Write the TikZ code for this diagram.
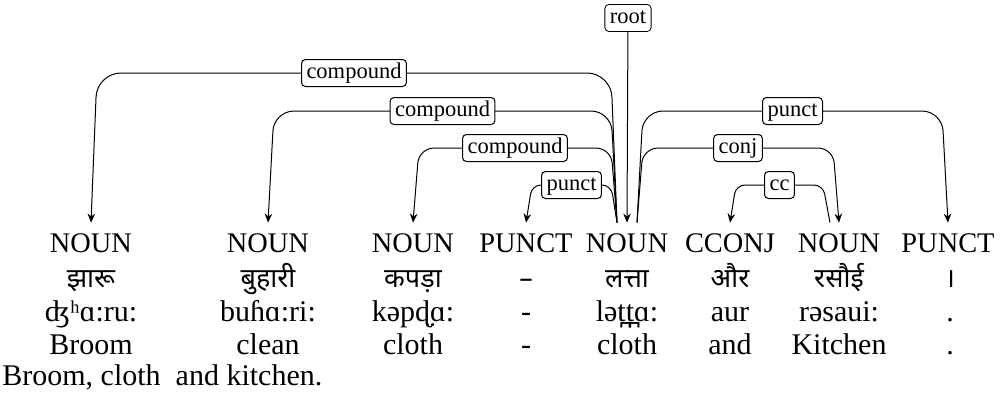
\documentclass[tikz,border=0pt]{standalone}
\usepackage{fontspec}
\setmainfont{Liberation Serif}
\newfontfamily\devfont[Script=Devanagari]{Noto Sans}
\usetikzlibrary{arrows.meta}

\begin{document}
\begin{tikzpicture}[x=0.5pt,y=-0.5pt,
        every node/.style={font=\fontsize{14.2}{17}\selectfont},
        tag/.style={anchor=base,inner sep=0pt,text height=14.5pt},
        word/.style={anchor=base,inner sep=0pt,font=\fontsize{15}{18}\selectfont},
        hindi/.style={word,font=\fontsize{13.5}{16}\devfont},
        rel/.style={draw,fill=white,rounded corners=2pt,inner xsep=2.5pt,inner ysep=1.5pt,
            text height=8pt,text depth=2.5pt,font=\fontsize{11.25}{13}\selectfont},
        arc/.style={line width=0.5pt,-{Stealth[length=4.5pt,width=3.8pt]}}]
    \useasboundingbox (0,0) rectangle (1002,397);
    % levels of the arcs
    \coordinate (lvA) at (0,73);
    \coordinate (lvB) at (0,111);
    \coordinate (lvC) at (0,148);
    \coordinate (lvD) at (0,185);
    % tags
    \node[tag] (pos1) at (91,252) {NOUN};
    \node[tag] (pos2) at (268,252) {NOUN};
    \node[tag] (pos3) at (413,252) {NOUN};
    \node[tag] (pos4) at (526,252) {PUNCT};
    \node[tag] (pos5) at (627,252) {NOUN};
    \node[tag] (pos6) at (730,252) {CCONJ};
    \node[tag] (pos7) at (839,252) {NOUN};
    \node[tag] (pos8) at (948,252) {PUNCT};
    % words
    \node[hindi] (hi1) at (91,287) {झारू};
    \node[hindi] (hi2) at (268,287) {बुहारी};
    \node[hindi] (hi3) at (413,287) {कपड़ा};
    \node[hindi] (hi4) at (526,287) {–};
    \node[hindi] (hi5) at (627,287) {लत्ता};
    \node[hindi] (hi6) at (730,287) {और};
    \node[hindi] (hi7) at (839,287) {रसौई};
    \node[hindi] (hi8) at (950,287) {।};
    % transcription
    \node[word] (ipa1) at (91,321) {ʤʰɑ:ru:};
    \node[word] (ipa2) at (268,321) {buɦɑ:ri:};
    \node[word] (ipa3) at (413,321) {kəpɖ̤ɑ:};
    \node[word] (ipa4) at (526,321) {-};
    \node[word] (ipa5) at (627,321) {lət̪t̪ɑ:};
    \node[word] (ipa6) at (730,321) {aur};
    \node[word] (ipa7) at (839,321) {rəsaui:};
    \node[word] (ipa8) at (950,321) {.};
    % gloss
    \node[word] (en1) at (91,354) {Broom};
    \node[word] (en2) at (268,354) {clean};
    \node[word] (en3) at (413,354) {cloth};
    \node[word] (en4) at (526,354) {-};
    \node[word] (en5) at (627,354) {cloth};
    \node[word] (en6) at (730,354) {and};
    \node[word] (en7) at (839,354) {Kitchen};
    \node[word] (en8) at (950,354) {.};
    \node[word,anchor=base west] (trans) at (2,385) {Broom, cloth\ \ and kitchen.};
    % dependencies
    \node[rel] (root) at (628,18) {root};
    \draw[arc] (root) -- (pos5.north);
    \draw[arc,rounded corners=12pt] ([xshift=-5pt]pos5.north) -- ([xshift=-8pt]pos5.north |- lvA)
        -- node[rel] {compound} ([xshift=3pt]pos1.north |- lvA) -- (pos1.north);
    \draw[arc,rounded corners=10pt] ([xshift=-5pt]pos5.north) -- ([xshift=-8pt]pos5.north |- lvB)
        -- node[rel] {compound} ([xshift=3pt]pos2.north |- lvB) -- (pos2.north);
    \draw[arc,rounded corners=7.5pt] ([xshift=-5pt]pos5.north) -- ([xshift=-8pt]pos5.north |- lvC)
        -- node[rel] {compound} ([xshift=3pt]pos3.north |- lvC) -- (pos3.north);
    \draw[arc,rounded corners=4.5pt] ([xshift=-5pt]pos5.north) -- ([xshift=-8pt]pos5.north |- lvD)
        -- node[rel] {punct} ([xshift=3pt]pos4.north |- lvD) -- (pos4.north);
    \draw[arc,rounded corners=10pt] ([xshift=5pt]pos5.north) -- ([xshift=8pt]pos5.north |- lvB)
        -- node[rel] {punct} ([xshift=-3pt]pos8.north |- lvB) -- (pos8.north);
    \draw[arc,rounded corners=7.5pt] ([xshift=5pt]pos5.north) -- ([xshift=8pt]pos5.north |- lvC)
        -- node[rel] {conj} ([xshift=-3pt]pos7.north |- lvC) -- (pos7.north);
    \draw[arc,rounded corners=4.5pt] ([xshift=-4.5pt]pos7.north) -- ([xshift=-8pt]pos7.north |- lvD)
        -- node[rel] {cc} ([xshift=3pt]pos6.north |- lvD) -- (pos6.north);
\end{tikzpicture}
\end{document}
